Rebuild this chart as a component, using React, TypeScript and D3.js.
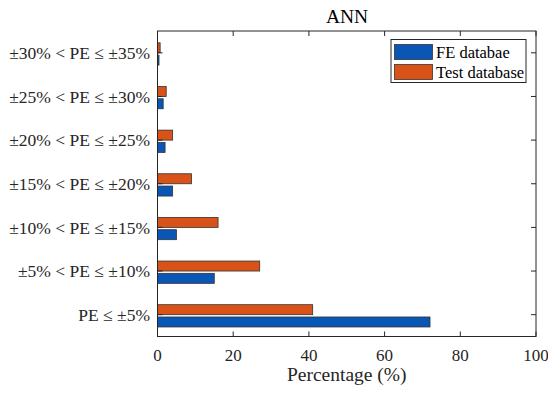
import React from "react";
import * as d3 from "d3";

const categories = [
  "PE ≤ ±5%",
  "±5% < PE ≤ ±10%",
  "±10% < PE ≤ ±15%",
  "±15% < PE ≤ ±20%",
  "±20% < PE ≤ ±25%",
  "±25% < PE ≤ ±30%",
  "±30% < PE ≤ ±35%",
];
const feValues = [72, 15, 5, 4, 2, 1.5, 0.4];
const testValues = [41, 27, 16, 9, 4, 2.3, 0.7];
const xTicks = [0, 20, 40, 60, 80, 100];
const seriesNames = ["FE databae", "Test database"];
const colors = ["#0a56b5", "#d95319"];

const W = 548, H = 393;
const left = 157.5, right = 536, top = 31, bottom = 336.5;
const font = "Liberation Serif, serif";

export default function App() {
  const x = d3.scaleLinear().domain([0, 100]).range([left, right]);
  const y = d3.scaleLinear().domain([0.5, 7.5]).range([bottom, top]);
  const barH = 10;
  const tick = 5;
  return (
    <svg width={W} height={H} style={{ position: "absolute", left: 0, top: 0, background: "#fff", fontFamily: font }}>
      <rect x={0} y={0} width={W} height={H} fill="#fff" />
      {categories.map((c, i) => {
        const cy = y(i + 1);
        return (
          <g key={c}>
            <rect x={x(0)} y={cy - barH} width={x(testValues[i]) - x(0)} height={barH} fill={colors[1]} stroke="#333" strokeWidth={0.8} />
            <rect x={x(0)} y={cy + 2.3} width={x(feValues[i]) - x(0)} height={barH} fill={colors[0]} stroke="#333" strokeWidth={0.8} />
            <line x1={left} x2={left + tick} y1={cy} y2={cy} stroke="#262626" />
            <line x1={right} x2={right - tick} y1={cy} y2={cy} stroke="#262626" />
            <text x={150} y={cy} dy="0.35em" textAnchor="end" fontSize={17.5} fill="#262626">{c}</text>
          </g>
        );
      })}
      {xTicks.map((t) => (
        <g key={t}>
          <line x1={x(t)} x2={x(t)} y1={bottom} y2={bottom - tick} stroke="#262626" />
          <line x1={x(t)} x2={x(t)} y1={top} y2={top + tick} stroke="#262626" />
          <text x={x(t)} y={361} textAnchor="middle" fontSize={17} fill="#262626">{t}</text>
        </g>
      ))}
      <rect x={left} y={top} width={right - left} height={bottom - top} fill="none" stroke="#262626" strokeWidth={1} />
      <text x={(left + right) / 2} y={381} textAnchor="middle" fontSize={19.5} fill="#262626">Percentage (%)</text>
      <text x={347} y={23} textAnchor="middle" fontSize={19.5} fill="#000">ANN</text>
      <g>
        <rect x={391} y={39.5} width={135} height={43} fill="#fff" stroke="#262626" strokeWidth={1} />
        {seriesNames.map((s, i) => (
          <g key={s}>
            <rect x={394.5} y={44.5 + i * 20} width={38} height={15} fill={colors[i]} stroke="#333" strokeWidth={0.8} />
            <text x={436} y={52 + i * 20} dy="0.35em" fontSize={16.5} fill="#000">{s}</text>
          </g>
        ))}
      </g>
    </svg>
  );
}
